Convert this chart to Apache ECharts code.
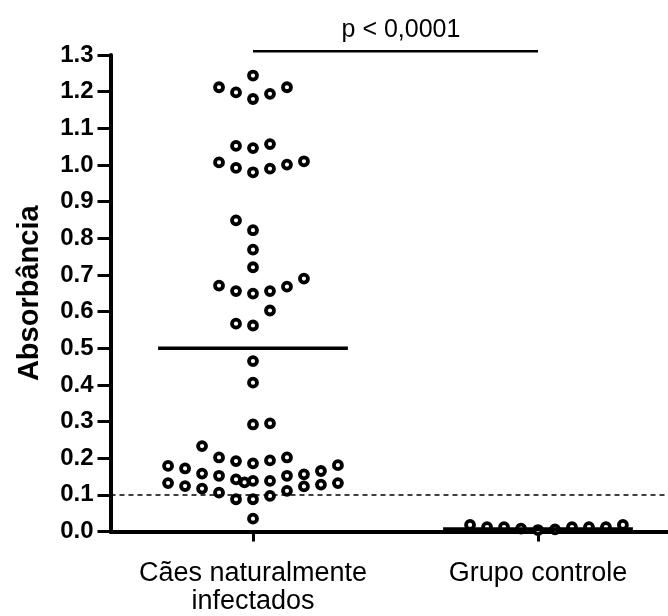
<!DOCTYPE html>
<html>
<head>
<meta charset="utf-8">
<script src="https://cdn.jsdelivr.net/npm/echarts@6/dist/echarts.min.js"></script>
<style>html,body{margin:0;padding:0;background:#fff;}#chart{width:668px;height:616px;}</style>
</head>
<body>
<div id="chart"></div>
<script>
// ---- data ----
const categories = ['Cães naturalmente\ninfectados', 'Grupo controle'];
const yAxisTitle = 'Absorbância';
const pValueText = 'p < 0,0001';
const pLineLevel = 1.31;
const cutoffValue = 0.1;
const groupMeans = [0.50, 0.006];

// infected group: absorbance values and their swarm column (offset index)
const infectedValues = [
  1.244,
  1.212, 1.198, 1.180, 1.194, 1.212,
  1.052, 1.046, 1.057,
  1.007, 0.992, 0.980, 0.990, 1.001, 1.010,
  0.849, 0.822, 0.769, 0.721,
  0.671, 0.656, 0.649, 0.656, 0.668, 0.690,
  0.603,
  0.567, 0.562,
  0.465, 0.406,
  0.292, 0.295,
  0.233,
  0.179, 0.172, 0.202, 0.192, 0.186, 0.194, 0.202, 0.156, 0.165, 0.181,
  0.158, 0.152, 0.142, 0.134, 0.138, 0.138, 0.152,
  0.132, 0.124, 0.117, 0.106, 0.088, 0.088, 0.097, 0.111, 0.123, 0.128, 0.132,
  0.035
];
const infectedCols = [
  0,
  -2, -1, 0, 1, 2,
  -1, 0, 1,
  -2, -1, 0, 1, 2, 3,
  -1, 0, 0, 0,
  -2, -1, 0, 1, 2, 3,
  1,
  -1, 0,
  0, 0,
  0, 1,
  -3,
  -5, -4, -2, -1, 0, 1, 2, 3, 4, 5,
  -3, -2, -1, -0.5, 0, 1, 2,
  -5, -4, -3, -2, -1, 0, 1, 2, 3, 4, 5,
  0
];
const controlValues = [0.018, 0.012, 0.012, 0.008, 0.004, 0.006, 0.012, 0.012, 0.012, 0.018];
const controlCols   = [-4, -3, -2, -1, 0, 1, 2, 3, 4, 5];

// ---- layout / style ----
const COL_STEP = 0.0596;   // swarm spacing in x-axis units
const MEAN_HALF = 0.333;   // half-length of mean bars in x-axis units
const FONT = '"Liberation Sans", Arial, Helvetica, sans-serif';

const infectedPts = infectedValues.map((v, i) => [1 + infectedCols[i] * COL_STEP, v]);
const controlPts = controlValues.map((v, i) => [2 + controlCols[i] * COL_STEP, v]);

const chart = echarts.init(document.getElementById('chart'), null, {renderer: 'canvas'});
const dotStyle = {color: '#fff', borderColor: '#000', borderWidth: 3.8, opacity: 1};

chart.setOption({
  animation: false,
  backgroundColor: '#fff',
  title: {
    text: pValueText, left: 396, top: 13, textAlign: 'center',
    textStyle: {color: '#000', fontFamily: FONT, fontSize: 25, fontWeight: 'normal'}
  },
  grid: {left: 110.5, right: -12.5, top: 55, bottom: 84.5, containLabel: false, outerBoundsMode: 'none'},
  xAxis: [
    {
      type: 'category', data: categories, boundaryGap: true,
      axisLine: {show: true, lineStyle: {color: '#000', width: 4}},
      axisTick: {show: true, alignWithLabel: true, length: 10, lineStyle: {color: '#000', width: 3}},
      axisLabel: {color: '#000', fontFamily: FONT, fontSize: 27, lineHeight: 28, margin: 28,
        interval: 0, hideOverlap: false},
      splitLine: {show: false}
    },
    {type: 'value', min: 0.5, max: 2.5, show: false, splitLine: {show: false}}
  ],
  yAxis: {
    type: 'value', min: 0, max: 1.3, interval: 0.1,
    name: yAxisTitle, nameLocation: 'middle', nameGap: 66,
    nameTextStyle: {color: '#000', fontFamily: FONT, fontWeight: 'bold', fontSize: 29},
    axisLine: {show: true, lineStyle: {color: '#000', width: 4}},
    axisTick: {show: true, length: 13, lineStyle: {color: '#000', width: 3}},
    axisLabel: {color: '#000', fontFamily: FONT, fontWeight: 'bold', fontSize: 24, margin: 17,
      formatter: v => v.toFixed(1)},
    splitLine: {show: false}
  },
  series: [
    {
      type: 'scatter', xAxisIndex: 1, data: infectedPts, symbol: 'circle', symbolSize: 8,
      itemStyle: dotStyle, z: 3,
      markLine: {
        silent: true, symbol: 'none', animation: false,
        lineStyle: {color: '#000', width: 1.5, type: [5, 4]},
        label: {show: false},
        data: [{yAxis: cutoffValue}]
      }
    },
    {
      type: 'scatter', xAxisIndex: 1, data: controlPts, symbol: 'circle', symbolSize: 8,
      itemStyle: dotStyle, z: 3, clip: false
    },
    {
      type: 'line', xAxisIndex: 1, symbol: 'none', z: 4,
      data: [[1 - MEAN_HALF, groupMeans[0]], [1 + MEAN_HALF, groupMeans[0]]],
      lineStyle: {color: '#000', width: 3.5}
    },
    {
      type: 'line', xAxisIndex: 1, symbol: 'none', z: 4, clip: false,
      data: [[2 - MEAN_HALF, groupMeans[1]], [2 + MEAN_HALF, groupMeans[1]]],
      lineStyle: {color: '#000', width: 4}
    },
    {
      type: 'line', xAxisIndex: 1, symbol: 'none', z: 4, clip: false,
      data: [[1, pLineLevel], [2, pLineLevel]],
      lineStyle: {color: '#000', width: 2.5}
    }
  ]
});
</script>
</body>
</html>
